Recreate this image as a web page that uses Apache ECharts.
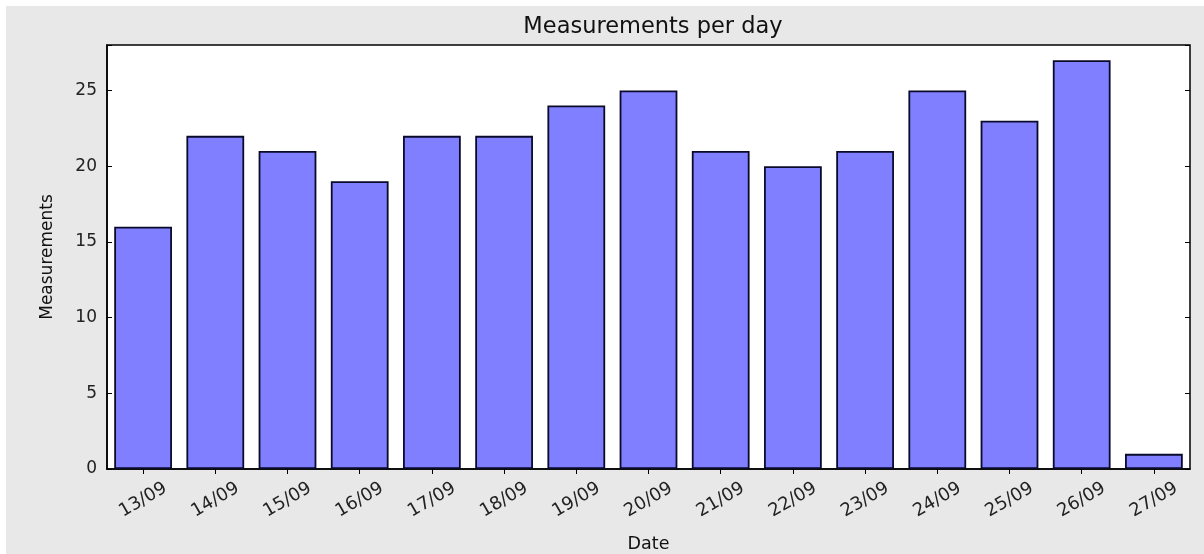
<!DOCTYPE html>
<html>
<head>
<meta charset="utf-8">
<script src="https://cdn.jsdelivr.net/npm/echarts@6/dist/echarts.min.js"></script>
<style>
html,body{margin:0;padding:0;background:#ffffff;}
#chart{position:absolute;left:6px;top:6px;width:1198px;height:548px;background:#e8e8e8;}
</style>
</head>
<body>
<div id="chart"></div>
<script>
const categories = ['13/09','14/09','15/09','16/09','17/09','18/09','19/09','20/09','21/09','22/09','23/09','24/09','25/09','26/09','27/09'];
const measurements = [16,22,21,19,22,22,24,25,21,20,21,25,23,27,1];
const yTicks = [0,5,10,15,20,25];

const font = 'DejaVu Sans';
const chart = echarts.init(document.getElementById('chart'), null, {renderer:'canvas'});
const tickStyle = {show:true, inside:true, length:5, lineStyle:{color:'#000', width:1}};
chart.setOption({
  animation:false,
  backgroundColor:'#e8e8e8',
  title:{
    text:'Measurements per day',
    left:642, top:5, textAlign:'center',
    textStyle:{fontFamily:font, fontSize:22.5, fontWeight:'normal', color:'#111'}
  },
  grid:{left:101, top:39, right:14, bottom:85, outerBoundsMode:'none', containLabel:false,
    show:true, backgroundColor:'#fff', borderColor:'#000', borderWidth:1.5},
  xAxis:[{
    type:'category', data:categories, boundaryGap:true,
    name:'Date', nameLocation:'middle', nameGap:66,
    nameTextStyle:{fontFamily:font, fontSize:17.5, color:'#111'},
    axisLine:{show:true, lineStyle:{color:'#000', width:1.5}},
    axisTick:Object.assign({alignWithLabel:true}, tickStyle),
    axisLabel:{rotate:30, align:'center', verticalAlign:'middle', margin:31, fontFamily:font, fontSize:18, color:'#222'},
    splitLine:{show:false}
  },{
    type:'category', data:categories, position:'top', boundaryGap:true,
    axisLine:{show:false},
    axisTick:Object.assign({alignWithLabel:true}, tickStyle),
    axisLabel:{show:false}, splitLine:{show:false}
  }],
  yAxis:[{
    type:'value', min:0, max:28, interval:5,
    name:'Measurements', nameLocation:'middle', nameGap:51, nameRotate:90,
    nameTextStyle:{fontFamily:font, fontSize:17, color:'#111'},
    axisLine:{show:true, lineStyle:{color:'#000', width:1.5}},
    axisTick:tickStyle,
    axisLabel:{margin:10, fontFamily:font, fontSize:17, color:'#222',
      formatter:function(v){return yTicks.indexOf(v) >= 0 ? String(v) : '';}},
    splitLine:{show:false}
  },{
    type:'value', min:0, max:28, interval:5, position:'right',
    axisLine:{show:false}, axisTick:tickStyle, axisLabel:{show:false}, splitLine:{show:false}
  }],
  series:[{
    type:'bar', data:measurements, barWidth:'80%',
    itemStyle:{color:'#7f7fff', borderColor:'#0a0a2a', borderWidth:1.8}
  }]
});
</script>
</body>
</html>
